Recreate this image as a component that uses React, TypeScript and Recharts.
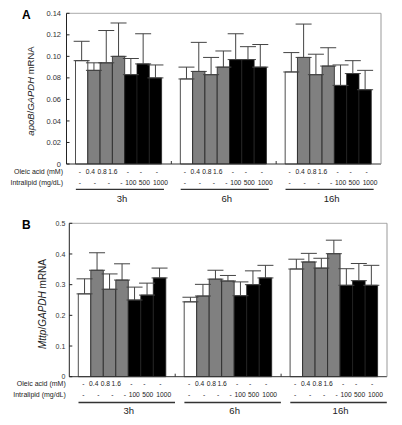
import { Bar, BarChart, ErrorBar, ReferenceLine, XAxis, YAxis } from "recharts"

const groups = ["3h", "6h", "16h"]
const oleicLabels = ["-", "0.4", "0.8", "1.6", "-", "-", "-"]
const intralipidLabels = ["-", "-", "-", "-", "100", "500", "1000"]
const barFills = ["#ffffff", "#808080", "#808080", "#808080", "#000000", "#000000", "#000000"]

// apoB/GAPDH, rows = 3h, 6h, 16h
const apobMean = [
  [0.096, 0.087, 0.094, 0.1, 0.083, 0.093, 0.08],
  [0.079, 0.086, 0.083, 0.09, 0.097, 0.097, 0.09],
  [0.0855, 0.099, 0.083, 0.091, 0.073, 0.084, 0.069],
]
const apobSd = [
  [0.018, 0.007, 0.03, 0.031, 0.015, 0.028, 0.012],
  [0.011, 0.027, 0.016, 0.015, 0.024, 0.012, 0.021],
  [0.018, 0.031, 0.019, 0.017, 0.019, 0.012, 0.018],
]
const apobTicks = [0, 0.02, 0.04, 0.06, 0.08, 0.1, 0.12, 0.14]

// Mttp/GAPDH
const mttpMean = [
  [0.27, 0.347, 0.285, 0.315, 0.25, 0.266, 0.322],
  [0.244, 0.263, 0.318, 0.312, 0.264, 0.3, 0.322],
  [0.351, 0.374, 0.354, 0.401, 0.298, 0.313, 0.298],
]
const mttpSd = [
  [0.049, 0.057, 0.05, 0.053, 0.042, 0.039, 0.032],
  [0.015, 0.038, 0.029, 0.018, 0.045, 0.045, 0.041],
  [0.032, 0.028, 0.032, 0.044, 0.054, 0.056, 0.065],
]
const mttpTicks = [0, 0.1, 0.2, 0.3, 0.4, 0.5]

const FONT = "'Liberation Sans', Arial, sans-serif"
const TABLE_FONT = 6.7
// where the table text sits, relative to the group centre (px)
const oleicX = [-39, -28.5, -16.8, -6, 9, 22, 38]
const intralipidX = [-39, -24, -10, 2.5, 12, 25.5, 41.5]

function buildRows(mean: number[][], sd: number[][]) {
  return groups.map((g, gi) => {
    const row: any = { group: g }
    mean[gi].forEach((m, i) => {
      row[`v${i}`] = m
      row[`e${i}`] = [0, sd[gi][i]]
    })
    return row
  })
}

interface PanelProps {
  letter: string
  geneName: string
  rows: any[]
  ticks: number[]
  fmt: (v: number) => string
  top: number
  height: number
  yAxisWidth: number
  marginRight: number
  xAxisHeight: number
  barSize: number
  labelX: number
  labelY: number
  labelSize: number
  tickFont: number
  tickGap: number
  rowY: [number, number, number, number]
  lineExtra: number
}

function Panel(p: PanelProps) {
  const width = 402
  const plotLeft = p.yAxisWidth
  const plotRight = width - p.marginRight - 1
  const band = (plotRight - plotLeft) / 3
  const max = p.ticks[p.ticks.length - 1]

  const xTick = (props: any) => {
    const { x, y, payload } = props
    const idx = payload.index
    const half = (p.barSize * 7) / 2
    const lineL = x - half
    const lineR = x + half + p.lineExtra
    return (
      <g fontFamily={FONT} fill="#222">
        {idx === 0 && (
          <>
            <text x={plotLeft - 3.5} y={y + p.rowY[0]} textAnchor="end" fontSize={7}>
              Oleic acid (mM)
            </text>
            <text x={plotLeft - 3.5} y={y + p.rowY[1]} textAnchor="end" fontSize={7}>
              Intralipid (mg/dL)
            </text>
          </>
        )}
        {oleicLabels.map((t, i) => (
          <text key={"o" + i} x={x + oleicX[i]} y={y + p.rowY[0]} textAnchor="middle" fontSize={TABLE_FONT}>
            {t}
          </text>
        ))}
        {intralipidLabels.map((t, i) => (
          <text key={"l" + i} x={x + intralipidX[i]} y={y + p.rowY[1]} textAnchor="middle" fontSize={TABLE_FONT}>
            {t}
          </text>
        ))}
        <line x1={lineL} x2={lineR} y1={y + p.rowY[2]} y2={y + p.rowY[2]} stroke="#333" strokeWidth={1.3} />
        <text x={(lineL + lineR) / 2 + 2} y={y + p.rowY[3]} textAnchor="middle" fontSize={9.5}>
          {payload.value}
        </text>
        {idx < 2 && <line x1={x + band / 2} x2={x + band / 2} y1={y} y2={y - 3} stroke="#333" strokeWidth={1} />}
      </g>
    )
  }

  const yTick = (props: any) => {
    const { x, y, payload } = props
    return (
      <g>
        <text x={x} y={y} dy={2.6} textAnchor="end" fontSize={p.tickFont} fill="#333" fontFamily={FONT}>
          {p.fmt(payload.value)}
        </text>
        <line x1={x + p.tickGap} x2={x + p.tickGap + 3} y1={y} y2={y} stroke="#222" strokeWidth={1} />
      </g>
    )
  }

  const yLabel = () => (
    <g fontFamily={FONT}>
      <text x={22} y={19} fontSize={12} fontWeight="bold" fill="#000">
        {p.letter}
      </text>
      <text
        x={p.labelX}
        y={p.labelY}
        transform={`rotate(-90 ${p.labelX} ${p.labelY})`}
        textAnchor="middle"
        dominantBaseline="central"
        fontSize={p.labelSize}
        fill="#222"
      >
        <tspan fontStyle="italic">{p.geneName}</tspan>
        <tspan>/</tspan>
        <tspan fontStyle="italic">GAPDH</tspan>
        <tspan> mRNA</tspan>
      </text>
    </g>
  )

  return (
    <div style={{ position: "absolute", left: 0, top: p.top }}>
      <BarChart
        width={width}
        height={p.height}
        data={p.rows}
        margin={{ top: 13.3, right: p.marginRight, left: 0, bottom: 0 }}
        barGap={0}
        barSize={p.barSize}
      >
        <XAxis
          dataKey="group"
          height={p.xAxisHeight}
          interval={0}
          tickLine={false}
          tickSize={0}
          tickMargin={0}
          axisLine={{ stroke: "#333", strokeWidth: 1 }}
          tick={xTick}
        />
        <YAxis
          width={p.yAxisWidth}
          domain={[0, max]}
          ticks={p.ticks}
          interval={0}
          tickLine={false}
          tickSize={0}
          tickMargin={p.tickGap}
          axisLine={{ stroke: "#222", strokeWidth: 1 }}
          tick={yTick}
          label={{ content: yLabel }}
        />
        <YAxis
          yAxisId="right"
          orientation="right"
          width={1}
          tick={false}
          tickLine={false}
          axisLine={{ stroke: "#999", strokeWidth: 1 }}
        />
        <ReferenceLine y={max} stroke="#aaa" strokeWidth={1} />
        {barFills.map((fill, i) => (
          <Bar key={i} dataKey={`v${i}`} fill={fill} stroke="#222" strokeWidth={0.8} isAnimationActive={false}>
            <ErrorBar dataKey={`e${i}`} width={8} stroke="#444" strokeWidth={1} isAnimationActive={false} />
          </Bar>
        ))}
      </BarChart>
    </div>
  )
}

export default function App() {
  return (
    <div style={{ position: "absolute", left: 0, top: 0, width: 402, height: 425, background: "#fff" }}>
      <Panel
        letter="A"
        geneName="apoB"
        rows={buildRows(apobMean, apobSd)}
        ticks={apobTicks}
        fmt={(v) => (v === 0 ? "0" : v.toFixed(2))}
        top={0}
        height={205}
        yAxisWidth={66.5}
        marginRight={20}
        xAxisHeight={41}
        barSize={12.3}
        labelX={30}
        labelY={91}
        labelSize={9.5}
        tickFont={7.5}
        tickGap={5.5}
        rowY={[9.7, 20.7, 25.3, 38]}
        lineExtra={2}
      />
      <Panel
        letter="B"
        geneName="Mttp"
        rows={buildRows(mttpMean, mttpSd)}
        ticks={mttpTicks}
        fmt={(v) => (v === 0 ? "0" : v.toFixed(1))}
        top={210}
        height={215}
        yAxisWidth={69.3}
        marginRight={14}
        xAxisHeight={48.3}
        barSize={12.5}
        labelX={42}
        labelY={94}
        labelSize={10}
        tickFont={7}
        tickGap={4}
        rowY={[9, 20, 25.8, 37.3]}
        lineExtra={9}
      />
    </div>
  )
}
